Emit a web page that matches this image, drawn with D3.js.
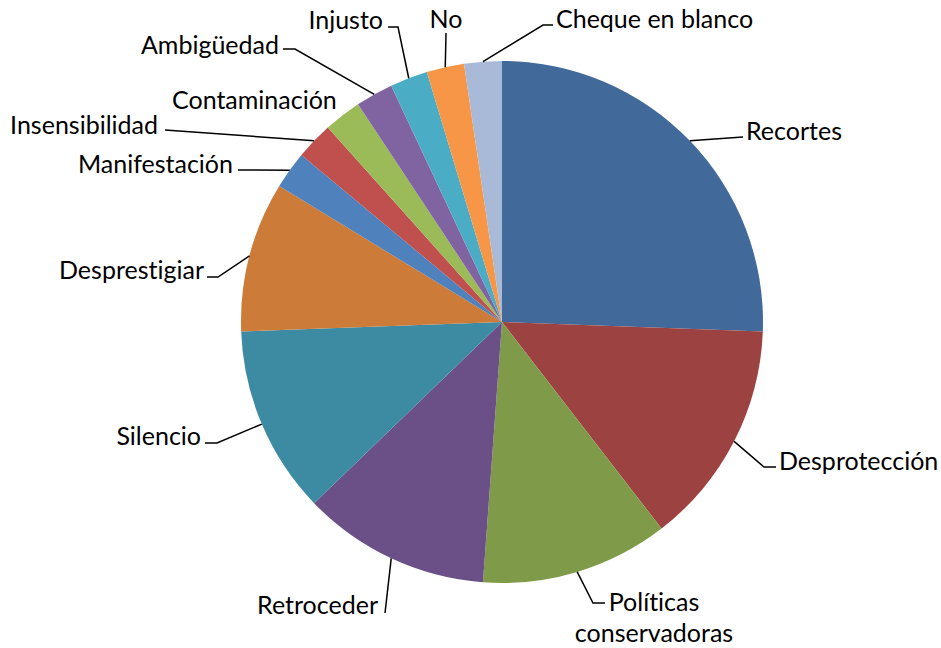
<!DOCTYPE html>
<html>
<head>
<meta charset="utf-8">
<script src="https://cdn.jsdelivr.net/npm/d3@7/dist/d3.min.js"></script>
<style>
  body { margin: 0; background: #ffffff; }
  svg text { font-family: Lato, "Open Sans", sans-serif; font-size: 25px; fill: #000;
             font-variant-ligatures: none; font-feature-settings: "liga" 0; }
</style>
</head>
<body>
<svg id="chart" width="941" height="648"></svg>
<script>
// Responses, in drawing order (clockwise from 12 o'clock)
const categories = [
  "Recortes", "Desprotección", "Políticas conservadoras", "Retroceder", "Silencio",
  "Desprestigiar", "Manifestación", "Insensibilidad", "Contaminación", "Ambigüedad",
  "Injusto", "No", "Cheque en blanco"
];
const counts = [11, 6, 5, 5, 5, 4, 1, 1, 1, 1, 1, 1, 1];
const sliceColors = [
  "#41699a", "#9c4240", "#7f9b4a", "#6a5087", "#3d8ba3", "#cc7b38",
  "#4f81bd", "#c0504d", "#9bbb59", "#8064a2", "#4bacc6", "#f79646", "#a9b9d8"
];

// Label placement: text anchor point, alignment and leader-line bends
const labelLayout = [
  { x: 746, y: 140, anchor: "start",  bends: [[743, 137]] },
  { x: 779, y: 470, anchor: "start",  bends: [[764, 467], [776, 467]] },
  { x: 654, y: 611, anchor: "middle", bends: [[593, 603], [605, 603]], lines: ["Políticas", "conservadoras"] },
  { x: 378, y: 614, anchor: "end",    bends: [[385, 613]] },
  { x: 201, y: 445, anchor: "end",    bends: [[217, 443], [205, 443]] },
  { x: 204, y: 279, anchor: "end",    bends: [[218, 277], [207, 277]] },
  { x: 233, y: 173, anchor: "end",    bends: [[238, 170]] },
  { x: 158, y: 134, anchor: "end",    bends: [[165, 130]] },
  { x: 172, y: 109, anchor: "start",  bends: null },
  { x: 279, y: 54,  anchor: "end",    bends: [[295, 49], [283, 49]] },
  { x: 383, y: 29,  anchor: "end",    bends: [[398, 27], [388, 27]] },
  { x: 446, y: 28,  anchor: "middle", bends: [[446, 33]] },
  { x: 556, y: 28,  anchor: "start",  bends: [[543, 25], [553, 25]] }
];

const cx = 502, cy = 322, radius = 261;
const svg = d3.select("#chart");

const data = categories.map((name, i) => ({ name, value: counts[i], color: sliceColors[i], layout: labelLayout[i] }));

const pie = d3.pie().sort(null).value(d => d.value);
const arc = d3.arc().innerRadius(0).outerRadius(radius);
const arcs = pie(data);

const g = svg.append("g").attr("transform", `translate(${cx},${cy})`);

g.selectAll("path.slice")
  .data(arcs)
  .join("path")
  .attr("class", "slice")
  .attr("d", arc)
  .attr("fill", d => d.data.color);

// Leader lines start on the rim at each slice's mid-angle
const line = d3.line();
svg.append("g").selectAll("path.leader")
  .data(arcs.filter(d => d.data.layout.bends))
  .join("path")
  .attr("class", "leader")
  .attr("fill", "none")
  .attr("stroke", "#000")
  .attr("stroke-width", 1.5)
  .attr("d", d => {
    const a = (d.startAngle + d.endAngle) / 2;
    const start = [cx + radius * Math.sin(a), cy - radius * Math.cos(a)];
    return line([start, ...d.data.layout.bends]);
  });

const labels = svg.append("g").selectAll("text")
  .data(data)
  .join("text")
  .attr("x", d => d.layout.x)
  .attr("y", d => d.layout.y)
  .attr("text-anchor", d => d.layout.anchor);

labels.each(function(d) {
  const t = d3.select(this);
  const lines = d.layout.lines || [d.name];
  lines.forEach((s, k) => {
    t.append("tspan").attr("x", d.layout.x).attr("dy", k === 0 ? 0 : 31).text(s);
  });
});
</script>
</body>
</html>
